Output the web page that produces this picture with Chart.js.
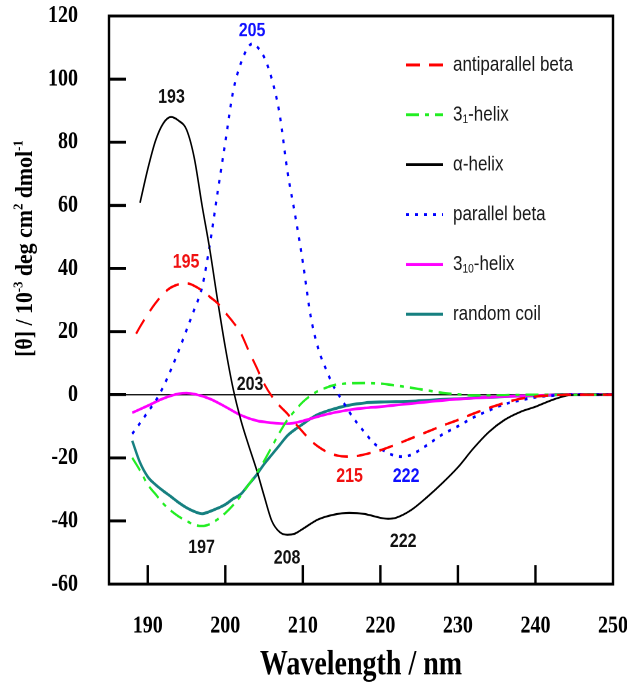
<!DOCTYPE html>
<html>
<head>
<meta charset="utf-8">
<script src="https://cdn.jsdelivr.net/npm/chart.js@4/dist/chart.umd.min.js"></script>
<style>
html, body { margin: 0; padding: 0; background: #fff; }
#wrap { width: 627px; height: 683px; overflow: hidden; position: relative; background: #fff; }
#box { width: 627px; height: 555px; transform: scaleY(1.2306); transform-origin: 0 0; }
</style>
</head>
<body>
<div id="wrap"><div id="box"><canvas id="c" width="627" height="555"></canvas></div></div>
<script>
// ---------- data (wavelength in nm, [θ] in 10^-3 deg cm2 dmol-1) ----------
const antiBetaNm = [188.5,189,190,191,192,193,194,195,196,197,198,199,200,201,202,203,204,205,206,207,208,209,210,211,212,213,214,215,216,217,218,220,222,224,226,228,230,232,234,236,238,240,242,244,246,250];
const antiBeta   = [19.3,21.5,25.5,29,32,34,35,35.3,34.5,33,31,29,26,23,19.5,14,8.8,3.5,-0.5,-3.5,-6,-9,-11.8,-14.5,-16.5,-18,-19,-19.5,-19.6,-19.4,-18.9,-17.6,-15.8,-13.8,-11.8,-9.8,-8,-6,-4.2,-2.6,-1.3,-0.6,-0.2,0,0,0];

const helix31Nm = [188,189,190,191,192,193,194,195,196,197,198,199,200,201,202,203,204,205,206,207,208,209,210,211,212,213,214,216,218,220,222,224,226,228,230,232,234,236,240,250];
const helix31   = [-20,-24,-28.5,-31.5,-34.5,-36.8,-38.6,-40,-41.2,-41.6,-41,-39.5,-37.5,-35,-32,-28.5,-25,-21,-16.5,-12,-8,-5,-2.3,-0.3,1.2,2.2,3,3.6,3.7,3.5,2.9,2.2,1.4,0.6,0.1,-0.2,-0.2,-0.1,0,0];

const alphaNm = [189,190,191,192,193,194,195,196,197,198,199,200,201,202,203,204,205,206,207,208,209,210,212,214,216,218,220,221,222,224,226,228,230,232,234,236,238,240,242,244,246,250];
const alpha   = [60.8,71.5,80.5,86,88,86.8,84,75,60,46,30,15,2,-8,-16,-23.5,-32,-40,-43.5,-44.4,-44,-42.5,-39.5,-38,-37.4,-37.8,-39,-39.3,-39,-36.5,-32.5,-28,-23,-17,-11.8,-8,-5.5,-3.8,-1.8,-0.3,0,0];

const parBetaNm = [188,189,190,191,192,193,194,195,196,197,198,199,200,201,202,203,203.5,204,205,206,207,208,209,210,211,212,213,214,215,216,217,218,219,220,221,222,223,224,226,228,230,232,234,236,238,240,242,244,250];
const parBeta   = [-12.4,-9,-5.5,-2,2.5,8,14,20.5,27,34,47.5,64,80,96,105,110.3,111.2,110.5,107,100,89,71,57,42,25,14.5,8,2.5,-1.5,-5.5,-9,-12,-15,-17,-18.5,-19.4,-19.6,-19,-16,-12.6,-10,-7.2,-5,-3,-1.8,-0.8,-0.3,0,0];

const helix310Nm = [188,190,192,194,195,196,198,200,202,204,206,208,210,212,214,216,218,220,222,224,226,228,230,232,234,236,238,240,244,250];
const helix310   = [-5.7,-3.5,-1.2,0.3,0.5,0.2,-1.3,-3.8,-6.5,-8.2,-8.9,-9.2,-8.3,-6.9,-5.7,-4.8,-4.2,-3.8,-3.3,-2.8,-2.3,-1.8,-1.4,-1.1,-0.8,-0.6,-0.4,-0.2,0,0];

const coilNm = [188,189,190,191,192,193,194,195,196,197,198,199,200,201,202,203,204,205,206,207,208,209,210,211,212,214,216,218,220,222,224,226,228,230,232,234,236,238,240,244,250];
const coil   = [-14.6,-21.5,-26,-28.5,-30.5,-32.3,-34.2,-35.8,-37,-37.7,-37,-36,-34.8,-33,-31.5,-28.5,-25.5,-22,-19,-16,-13,-11,-9.3,-7.6,-6.2,-4.5,-3.3,-2.6,-2.3,-2.2,-2.1,-1.8,-1.5,-1.3,-1,-0.8,-0.6,-0.4,-0.3,0,0];

const seriesLabels = ['antiparallel beta', '3\u2081-helix', '\u03b1-helix', 'parallel beta', '3\u2081\u2080-helix', 'random coil'];
const xTickValues = [190, 200, 210, 220, 230, 240, 250];
const yTickMin = -60, yTickMax = 120, yTickStep = 20;
const xTitle = 'Wavelength / nm';
const yTitleParts = [
  {t: '[\u03b8] / 10'}, {t: '-3', sup: true}, {t: ' deg cm'}, {t: '2', sup: true}, {t: ' dmol'}, {t: '-1', sup: true}
];
// peak annotations: text, wavelength, value, colour
const annoText  = ['205', '193', '195', '203', '197', '208', '215', '222', '222'];
const annoNm    = [203.45, 193.06, 194.94, 203.19, 196.94, 207.97, 216.03, 223.32, 222.94];
const annoVal   = [115.2, 94.3, 42.05, 3.08, -48.57, -51.74, -25.91, -25.91, -46.51];
const annoColor = ['#1010ff', '#111', '#f01010', '#111', '#111', '#111', '#f01010', '#1010ff', '#111'];

// ---------- chart ----------
const SERIF = "'Liberation Serif', 'Times New Roman', serif";
const SANS = "'Liberation Sans', Arial, sans-serif";
const pts = (xs, ys) => xs.map((x, i) => ({x: x, y: ys[i]}));

const datasets = [
  {label: seriesLabels[0], data: pts(antiBetaNm, antiBeta), borderColor: '#ff0000', borderWidth: 2, borderDash: [14, 9]},
  {label: seriesLabels[1], data: pts(helix31Nm, helix31), borderColor: '#22ee22', borderWidth: 2, borderDash: [13, 6, 4, 6]},
  {label: seriesLabels[2], data: pts(alphaNm, alpha), borderColor: '#000000', borderWidth: 1.6, borderDash: []},
  {label: seriesLabels[3], data: pts(parBetaNm, parBeta), borderColor: '#0000ff', borderWidth: 2.2, borderDash: [3, 6]},
  {label: seriesLabels[4], data: pts(helix310Nm, helix310), borderColor: '#ff00ff', borderWidth: 2.2, borderDash: []},
  {label: seriesLabels[5], data: pts(coilNm, coil), borderColor: '#168080', borderWidth: 2.4, borderDash: []}
];

function drawSubText(ctx, text, x, y, size) {
  const subMap = {'\u2080':'0','\u2081':'1','\u2082':'2','\u2083':'3'};
  let cx = x;
  for (const ch of text) {
    if (subMap[ch] !== undefined) {
      ctx.font = (size * 0.6).toFixed(1) + 'px ' + SANS;
      ctx.fillText(subMap[ch], cx, y + size * 0.22);
      cx += ctx.measureText(subMap[ch]).width;
    } else {
      ctx.font = size + 'px ' + SANS;
      ctx.fillText(ch, cx, y);
      cx += ctx.measureText(ch).width;
    }
  }
}

const decor = {
  id: 'decor',
  beforeDraw(c) {
    const ctx = c.ctx;
    ctx.save(); ctx.fillStyle = '#fff'; ctx.fillRect(0, 0, c.width, c.height); ctx.restore();
  },
  beforeDatasetsDraw(c) {
    const {ctx, chartArea: a, scales: {y}} = c;
    const y0 = y.getPixelForValue(0);
    ctx.save();
    ctx.strokeStyle = '#000'; ctx.lineWidth = 1.1;
    ctx.beginPath(); ctx.moveTo(a.left, y0); ctx.lineTo(a.right, y0); ctx.stroke();
    ctx.restore();
  },
  afterDatasetsDraw(c) {
    const {ctx, chartArea: a, scales: {x, y}} = c;
    ctx.save();
    ctx.strokeStyle = '#000';
    ctx.lineWidth = 2.4;
    ctx.strokeRect(a.left, a.top, a.right - a.left, a.bottom - a.top);
    ctx.beginPath();
    x.ticks.forEach(t => {
      const px = x.getPixelForValue(t.value);
      if (px > a.left + 3 && px < a.right - 3) { ctx.moveTo(px, a.bottom); ctx.lineTo(px, a.bottom - 15.5); }
    });
    y.ticks.forEach(t => {
      const py = y.getPixelForValue(t.value);
      if (py > a.top + 3 && py < a.bottom - 3) { ctx.moveTo(a.left, py); ctx.lineTo(a.left + 17, py); }
    });
    ctx.stroke();
    ctx.restore();
  },
  afterDraw(c) {
    const {ctx, scales: {x, y}} = c;
    // legend
    ctx.save();
    const lx0 = 406, lx1 = 443, tx = 453, ly0 = 52.8, dy = 40.5;
    c.data.datasets.forEach((ds, i) => {
      const yy = ly0 + i * dy;
      ctx.strokeStyle = ds.borderColor;
      ctx.lineWidth = 2.4;
      ctx.setLineDash(ds.borderDash || []);
      ctx.beginPath(); ctx.moveTo(lx0, yy); ctx.lineTo(lx1, yy); ctx.stroke();
      ctx.setLineDash([]);
      ctx.fillStyle = '#1a1a1a';
      ctx.textBaseline = 'middle'; ctx.textAlign = 'left';
      drawSubText(ctx, ds.label, tx, yy, 17);
    });
    ctx.restore();
    // peak annotations
    ctx.save();
    ctx.font = 'bold 16px ' + SANS;
    ctx.textAlign = 'center'; ctx.textBaseline = 'middle';
    annoText.forEach((t, i) => {
      ctx.fillStyle = annoColor[i];
      ctx.fillText(t, x.getPixelForValue(annoNm[i]), y.getPixelForValue(annoVal[i]));
    });
    ctx.restore();
    // y axis title (with superscripts)
    ctx.save();
    const big = 'bold 24px ' + SERIF, small = 'bold 14px ' + SERIF;
    let total = 0;
    yTitleParts.forEach(p => { ctx.font = p.sup ? small : big; p.w = ctx.measureText(p.t).width; total += p.w; });
    ctx.translate(24, 202);
    ctx.rotate(-Math.PI / 2);
    ctx.scale(176 / total, 1);
    ctx.fillStyle = '#000';
    ctx.textAlign = 'left'; ctx.textBaseline = 'alphabetic';
    let cx = -total / 2;
    yTitleParts.forEach(p => {
      ctx.font = p.sup ? small : big;
      ctx.fillText(p.t, cx, p.sup ? 8 - 9.5 : 8);
      cx += p.w;
    });
    ctx.restore();
  }
};

new Chart(document.getElementById('c'), {
  type: 'line',
  data: {datasets: datasets},
  options: {
    responsive: false,
    animation: false,
    devicePixelRatio: 2,
    layout: {padding: {left: 0, top: 13, right: 14, bottom: 0}},
    plugins: {legend: {display: false}, tooltip: {enabled: false}},
    elements: {
      point: {radius: 0, hoverRadius: 0},
      line: {cubicInterpolationMode: 'monotone', fill: false, borderCapStyle: 'butt'}
    },
    scales: {
      x: {
        type: 'linear', position: 'bottom', min: 185, max: 250,
        grid: {display: false}, border: {display: false},
        afterBuildTicks: s => { s.ticks = xTickValues.map(v => ({value: v})); },
        ticks: {padding: 14, color: '#000', maxRotation: 0, autoSkip: false,
                font: {family: SERIF, size: 20, weight: 'bold'}},
        title: {display: true, text: xTitle, color: '#000', padding: {top: 0, bottom: 0},
                font: {family: SERIF, size: 28, weight: 'bold', lineHeight: 1}},
        afterFit: s => { s.height = 80.4; s.paddingLeft = 0; s.paddingRight = 0; }
      },
      y: {
        type: 'linear', min: yTickMin, max: yTickMax,
        grid: {display: false}, border: {display: false},
        ticks: {stepSize: yTickStep, padding: 23, color: '#000',
                font: {family: SERIF, size: 20, weight: 'bold'}},
        afterFit: s => { s.width = 109; s.paddingTop = 0; s.paddingBottom = 0; }
      }
    }
  },
  plugins: [decor]
});
</script>
</body>
</html>
